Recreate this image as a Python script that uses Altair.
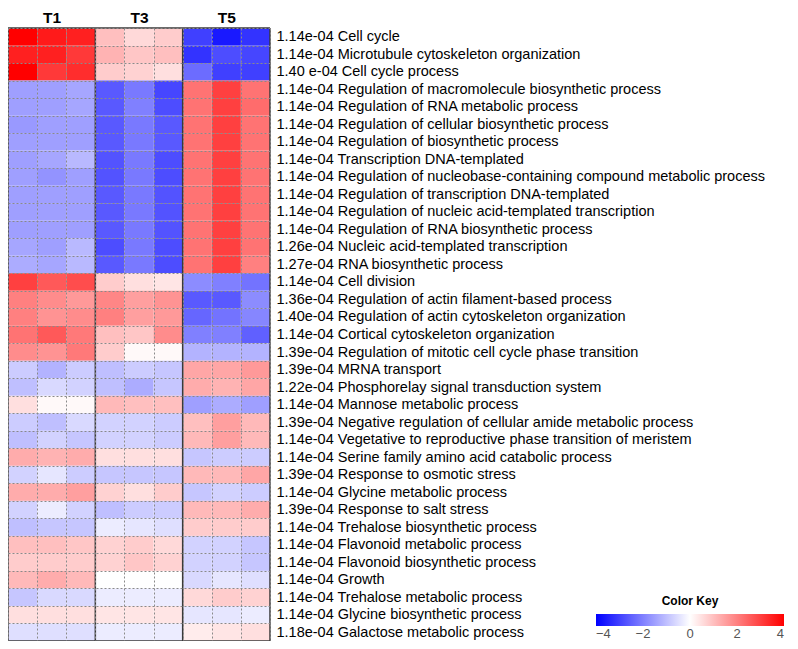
import altair as alt
import pandas as pd

terms = [
    "Cell cycle", "Microtubule cytoskeleton organization", "Cell cycle process",
    "Regulation of macromolecule biosynthetic process", "Regulation of RNA metabolic process",
    "Regulation of cellular biosynthetic process", "Regulation of biosynthetic process",
    "Transcription DNA-templated", "Regulation of nucleobase-containing compound metabolic process",
    "Regulation of transcription DNA-templated", "Regulation of nucleic acid-templated transcription",
    "Regulation of RNA biosynthetic process", "Nucleic acid-templated transcription",
    "RNA biosynthetic process", "Cell division", "Regulation of actin filament-based process",
    "Regulation of actin cytoskeleton organization", "Cortical cytoskeleton organization",
    "Regulation of mitotic cell cycle phase transition", "MRNA transport",
    "Phosphorelay signal transduction system", "Mannose metabolic process",
    "Negative regulation of cellular amide metabolic process",
    "Vegetative to reproductive phase transition of meristem",
    "Serine family amino acid catabolic process", "Response to osmotic stress",
    "Glycine metabolic process", "Response to salt stress", "Trehalose biosynthetic process",
    "Flavonoid metabolic process", "Flavonoid biosynthetic process", "Growth",
    "Trehalose metabolic process", "Glycine biosynthetic process", "Galactose metabolic process",
]
pvals = [
    "1.14e-04", "1.14e-04", "1.40 e-04", "1.14e-04", "1.14e-04", "1.14e-04", "1.14e-04",
    "1.14e-04", "1.14e-04", "1.14e-04", "1.14e-04", "1.14e-04", "1.26e-04", "1.27e-04",
    "1.14e-04", "1.36e-04", "1.40e-04", "1.14e-04", "1.39e-04", "1.39e-04", "1.22e-04",
    "1.14e-04", "1.39e-04", "1.14e-04", "1.14e-04", "1.39e-04", "1.14e-04", "1.39e-04",
    "1.14e-04", "1.14e-04", "1.14e-04", "1.14e-04", "1.14e-04", "1.14e-04", "1.18e-04",
]
t1 = [
    [4.0, 3.6, 3.5], [3.5, 3.5, 3.1], [4.0, 3.1, 3.3],
    [-1.5, -1.5, -1.4], [-1.5, -1.5, -1.4], [-1.6, -1.5, -1.5], [-1.5, -1.5, -1.5],
    [-1.5, -1.4, -1.1], [-1.5, -1.7, -1.5], [-1.5, -1.5, -1.5], [-1.5, -1.5, -1.5],
    [-1.5, -1.5, -1.5], [-1.4, -1.5, -1.1], [-1.3, -1.4, -1.1],
    [3.0, 2.6, 2.8], [2.0, 1.8, 1.6], [2.0, 1.7, 1.8], [2.2, 2.6, 2.1], [1.8, 1.7, 2.1],
    [-0.8, -1.2, -0.8], [-1.0, -0.6, -0.7], [0.5, 0.1, 0.1], [-0.8, -1.0, -0.6],
    [-1.0, -0.7, -0.9], [1.3, 1.2, 1.3], [-0.7, -0.4, -0.8], [1.3, 1.3, 1.5],
    [-0.7, -0.3, -0.7], [-1.0, -0.9, -0.9], [1.0, 1.0, 0.9], [0.8, 0.8, 0.8],
    [1.1, 1.3, 1.1], [-0.9, -0.6, -0.6], [0.5, 0.5, 0.5], [-0.5, -0.5, -0.5],
]
t3 = [
    [1.0, 0.6, 0.8], [1.2, 0.9, 1.0], [0.8, 0.7, 0.5],
    [-2.6, -2.1, -2.9], [-2.6, -2.0, -2.8], [-2.6, -2.1, -2.6], [-2.6, -2.1, -2.6],
    [-2.7, -2.1, -2.8], [-2.7, -2.1, -2.8], [-2.6, -2.1, -2.7], [-2.6, -2.1, -2.7],
    [-2.6, -2.1, -2.7], [-2.8, -2.1, -2.8], [-2.6, -2.1, -2.8],
    [0.8, 0.5, 0.4], [1.9, 1.5, 1.7], [2.0, 1.5, 1.6], [1.0, 0.9, 1.8], [0.8, 0.1, 0.1],
    [-1.0, -0.8, -0.9], [-1.0, -1.3, -0.9], [1.1, 1.0, 1.0], [-0.7, -0.7, -0.8],
    [-0.7, -0.7, -0.8], [0.5, 0.5, 0.5], [-0.9, -0.9, -0.9], [0.7, 0.5, 0.8],
    [-1.0, -0.8, -0.8], [-0.3, -0.4, -0.5], [0.7, 0.8, 0.6], [0.7, 0.9, 0.7],
    [0.0, 0.0, 0.0], [-0.3, -0.3, -0.3], [0.4, 0.4, 0.4], [-0.3, -0.3, -0.3],
]
t5 = [
    [-3.0, -3.6, -3.2], [-3.2, -2.8, -2.9], [-2.3, -3.0, -3.0],
    [2.2, 3.0, 2.2], [2.2, 3.0, 2.3], [2.2, 3.0, 2.2], [2.2, 3.0, 2.2],
    [2.2, 3.0, 2.2], [2.2, 3.0, 2.2], [2.2, 3.0, 2.2], [2.2, 3.0, 2.2],
    [2.2, 3.0, 2.2], [2.2, 3.0, 2.2], [2.2, 3.0, 2.0],
    [-1.8, -2.0, -2.2], [-2.6, -2.6, -1.8], [-2.4, -2.2, -1.9], [-2.0, -2.0, -2.5],
    [-1.2, -1.2, -1.2], [1.4, 1.4, 1.6], [1.3, 1.2, 1.4], [-1.5, -1.3, -1.5],
    [1.0, 1.5, 1.1], [1.1, 1.5, 1.1], [-0.9, -0.8, -0.8], [1.1, 1.1, 1.4],
    [-0.9, -0.7, -0.8], [1.1, 1.1, 1.3], [0.8, 0.8, 0.8], [-0.7, -0.7, -0.9],
    [-0.7, -0.7, -0.9], [-0.6, -0.4, -0.5], [0.6, 0.8, 0.7], [-0.4, -0.4, -0.3],
    [0.3, 0.4, 0.5],
]
groups = ["T1", "T3", "T5"]
key_ticks = [-4, -2, 0, 2, 4]

cols = [f"{g}_{k}" for g in groups for k in (1, 2, 3)]
labels = [f"{p} {n}" for p, n in zip(pvals, terms)]

recs = []
for i, lab in enumerate(labels):
    for g, arr in zip(groups, (t1, t3, t5)):
        for k in range(3):
            recs.append({"label": lab, "col": f"{g}_{k+1}", "value": arr[i][k]})
df = pd.DataFrame(recs)

FONT = "Liberation Sans"
x_sc = alt.Scale(paddingInner=0, paddingOuter=0)
y_sc = alt.Scale(paddingInner=0, paddingOuter=0)

heat = alt.Chart(df).mark_rect().encode(
    x=alt.X("col:N", sort=cols, scale=x_sc, axis=alt.Axis(
        orient="top", title=None, ticks=False, domain=False, labelAngle=0,
        labelExpr="datum.value=='T1_2'?'T1':datum.value=='T3_2'?'T3':datum.value=='T5_2'?'T5':''",
        labelFontSize=15.5, labelFontWeight="bold", labelColor="black", labelPadding=3,
        labelOverlap=False, grid=True, tickBand="extent", gridDash=[2, 2],
        gridColor="#8a8a8a", gridWidth=1, zindex=1)),
    y=alt.Y("label:N", sort=labels, scale=y_sc, axis=alt.Axis(
        orient="right", title=None, ticks=False, domain=False, labelFontSize=14.5,
        labelPadding=6, labelColor="black", labelLimit=0, labelOverlap=False,
        grid=True, tickBand="extent", gridDash=[2, 2], gridColor="#8a8a8a",
        gridWidth=1, zindex=1)),
    color=alt.Color("value:Q", scale=alt.Scale(
        domain=[-4, 0, 4], range=["#0000ff", "#ffffff", "#ff0000"],
        interpolate="rgb", clamp=True),
        legend=alt.Legend(
            orient="none", legendX=588, legendY=568, direction="horizontal",
            gradientLength=188, gradientThickness=12, gradientStrokeWidth=0,
            title="Color Key", titleAnchor="middle", titleOrient="top",
            titleFontSize=12, titleFontWeight="bold", titleColor="black",
            titlePadding=6, labelFontSize=13, labelColor="#555",
            values=key_ticks, labelFont=FONT, titleFont=FONT)),
)

sep = pd.DataFrame({"col": ["T1_1", "T3_1", "T5_1"]})
right = pd.DataFrame({"col": ["T5_3"]})
topb = pd.DataFrame({"label": [labels[0]]})
botb = pd.DataFrame({"label": [labels[-1]]})

rule_style = dict(color="#3a3a3a", strokeWidth=1.5)
r1 = alt.Chart(sep).mark_rule(**rule_style).encode(
    x=alt.X("col:N", sort=cols, bandPosition=0))
r2 = alt.Chart(right).mark_rule(**rule_style).encode(
    x=alt.X("col:N", sort=cols, bandPosition=1))
r3 = alt.Chart(topb).mark_rule(**rule_style).encode(
    y=alt.Y("label:N", sort=labels, bandPosition=0))
r4 = alt.Chart(botb).mark_rule(**rule_style).encode(
    y=alt.Y("label:N", sort=labels, bandPosition=1))

chart = alt.layer(heat, r1, r2, r3, r4).properties(
    width=262, height=613,
    autosize=alt.AutoSizeParams(type="none"),
    padding={"left": 0, "top": 20, "right": 520, "bottom": 0},
).configure_view(stroke=None).configure_axis(labelFont=FONT).configure_legend(
    labelFont=FONT, titleFont=FONT)

chart.save("out.html", embed_options={"renderer": "svg", "actions": False})
